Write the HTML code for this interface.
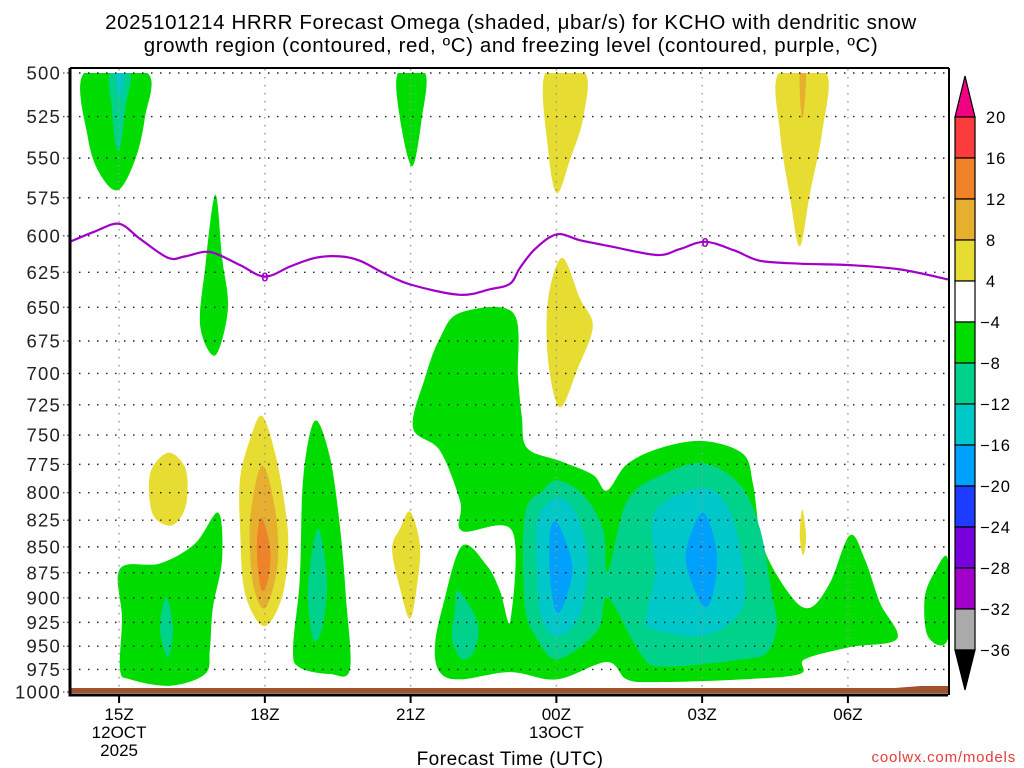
<!DOCTYPE html>
<html><head><meta charset="utf-8"><style>
html,body{margin:0;padding:0;background:#fff}
svg{display:block}
text{font-family:"Liberation Sans","DejaVu Sans",sans-serif}
</style></head><body>
<svg id="chart" width="1024" height="768" viewBox="0 0 1024 768" xmlns="http://www.w3.org/2000/svg">
<g id="title" font-size="20.5" fill="#000" text-anchor="middle" letter-spacing="0.6">
<text x="511" y="29">2025101214 HRRR Forecast Omega (shaded, μbar/s) for KCHO with dendritic snow</text>
<text x="511" y="52">growth region (contoured, red, ºC) and freezing level (contoured, purple, ºC)</text>
</g>
<g id="fills"></g>
<g id="grid"></g>
<g id="frz"></g>
<g id="axes"></g>
<g id="cbar"></g>
<text x="510" y="765" font-size="19" text-anchor="middle" letter-spacing="0.5">Forecast Time (UTC)</text>
<text x="1016" y="762" font-size="15" fill="#e23c3c" text-anchor="end" letter-spacing="0.8">coolwx.com/models</text>
</svg>
<script>
// ---- data ----
const pressureTicks=[500,525,550,575,600,625,650,675,700,725,750,775,800,825,850,875,900,925,950,975,1000];
const timeTickHours=[0,3,6,9,12,15];
const timeTickLabels=["15Z","18Z","21Z","00Z","03Z","06Z"];
const timeSubLabels=[["12OCT","2025"],[],[],["13OCT"],[],[]];
const cbarLevels=[20,16,12,8,4,-4,-8,-12,-16,-20,-24,-28,-32,-36];
const cbarColors=["#fa3c3c","#f08228","#e6af2d","#e6dc32","#ffffff","#00dc00","#00d28c","#00c8c8","#00a0ff","#1e3cff","#7800dc","#a000c8","#aaaaaa"];
const freezingHours=[-1.01,-0.49,0,0.43,1.01,1.36,1.87,2.49,3.00,3.52,4.03,4.55,4.96,5.47,6.03,7.02,7.63,8.05,8.25,8.56,9.01,9.49,10.10,11.07,11.54,12.06,12.67,13.19,14.01,15.04,16.07,17.06];
const freezingPres=[604,597,592,602,615,614,611,620,628,621,615,614,617,626,634,641,637,633,622,609,599,603,607,613,609,604,610,617,619,620,623,630];
// shaded omega regions: [level colour index, [[hour,hPa],...]]
const omegaRegions=[
 [5,[[-0.72,500],[0.58,500],[0.53,526],[0.33,551],[-0.02,570],[-0.39,560],[-0.64,538]]],
 [6,[[-0.19,500],[0.23,500],[0.13,520],[0.03,542],[-0.07,542],[-0.15,520]]],
 [7,[[-0.08,500],[0.10,500],[0.02,515]]],
 [5,[[1.98,573],[2.12,615],[2.24,651],[1.98,686],[1.67,664],[1.77,622]]],
 [5,[[5.74,500],[6.30,500],[6.23,526],[6.03,555],[5.78,526]]],
 [3,[[8.77,500],[9.59,500],[9.55,526],[9.28,551],[9.01,572],[8.83,545]]],
 [3,[[9.12,615],[9.49,644],[9.75,664],[9.44,696],[9.07,727],[8.83,690],[8.83,644]]],
 [3,[[13.58,500],[14.55,500],[14.47,534],[14.22,572],[14.01,607],[13.81,575],[13.60,534]]],
 [2,[[14.01,500],[14.14,500],[14.08,525],[14.03,520]]],
 [5,[[7.02,654],[8.11,654],[8.21,703],[8.29,735],[8.40,761],[9.07,772],[9.75,784],[10.04,798],[10.45,775],[11.13,761],[12.02,755],[12.84,766],[13.05,793],[13.25,849],[13.81,897],[14.22,910],[14.63,885],[15.04,839],[15.35,862],[15.66,905],[16.01,942],[15.04,951],[14.11,964],[14.01,980],[12.84,986],[11.07,989],[10.45,986],[10.04,967],[9.01,986],[8.05,978],[7.02,986],[6.60,978],[6.50,950],[6.67,907],[7.06,849],[7.57,868],[7.84,893],[8.05,924],[8.09,835],[7.06,835],[7.02,808],[6.60,763],[6.05,744],[6.30,703],[6.60,673]]],
 [6,[[8.35,820],[8.72,798],[9.03,789],[9.55,802],[9.96,833],[10.06,874],[10.45,808],[11.13,785],[12.02,774],[12.78,793],[13.19,833],[13.44,897],[13.54,928],[13.33,957],[12.84,964],[11.19,972],[10.72,957],[10.06,900],[9.84,934],[9.03,964],[8.60,942],[8.35,907]]],
 [7,[[8.62,823],[9.03,804],[9.42,820],[9.65,862],[9.49,917],[9.03,940],[8.70,921],[8.60,871]]],
 [8,[[8.87,836],[9.03,828],[9.32,866],[9.22,897],[9.01,915],[8.87,881]]],
 [7,[[11.03,817],[12.02,796],[12.57,817],[12.88,881],[12.74,917],[12.02,939],[10.93,931],[10.88,913],[11.03,874]]],
 [8,[[11.69,849],[12.02,818],[12.30,855],[12.22,897],[12.02,908],[11.71,874]]],
 [6,[[6.98,893],[7.37,924],[7.33,953],[7.06,964],[6.85,942],[6.91,913]]],
 [3,[[14.06,815],[14.14,840],[14.08,858],[14.01,840]]],
 [3,[[5.99,817],[6.19,847],[6.15,881],[5.99,921],[5.78,890],[5.62,852],[5.78,833]]],
 [5,[[0.02,871],[0.84,866],[1.56,847],[2.04,818],[2.12,862],[1.93,910],[1.87,953],[1.77,980],[1.05,993],[0.23,986],[0.02,975],[0.06,921]]],
 [6,[[0.97,900],[1.11,931],[1.01,962],[0.84,931]]],
 [3,[[1.01,765],[1.36,778],[1.40,805],[1.26,823],[1.01,830],[0.68,818],[0.64,783]]],
 [3,[[2.94,734],[3.21,765],[3.42,814],[3.48,852],[3.35,900],[2.98,929],[2.59,895],[2.49,833],[2.49,787],[2.70,753]]],
 [2,[[2.94,776],[3.21,814],[3.27,862],[3.11,900],[2.94,910],[2.74,881],[2.70,823]]],
 [1,[[2.94,823],[3.11,852],[3.07,881],[2.94,893],[2.86,871],[2.84,842]]],
 [5,[[4.03,738],[4.34,769],[4.55,833],[4.67,900],[4.75,975],[4.34,980],[3.72,973],[3.58,953],[3.72,881],[3.79,787]]],
 [6,[[4.09,833],[4.28,881],[4.18,931],[3.99,942],[3.89,890]]],
 [5,[[17.06,862],[17.06,942],[16.65,940],[16.58,900],[16.79,874]]]
];
// ---- scales ----
const X0=70,X1=948,H0=-1.01,H1=17.06,Y0=73,Y1=692;
function xs(h){return X0+(h-H0)/(H1-H0)*(X1-X0);}
function ys(p){return Y0+(Y1-Y0)*Math.log(p/500)/Math.log(2);}
const NS="http://www.w3.org/2000/svg";
function mk(tag,attrs,parent){const e=document.createElementNS(NS,tag);for(const k in attrs)e.setAttribute(k,attrs[k]);parent.appendChild(e);return e;}
function smooth(pts,closed){
 const n=pts.length;let d="M"+pts[0][0].toFixed(1)+","+pts[0][1].toFixed(1);
 const last=closed?n:n-1;
 for(let i=0;i<last;i++){
  const p0=pts[closed?(i-1+n)%n:Math.max(i-1,0)],p1=pts[i],p2=pts[(i+1)%n],p3=pts[closed?(i+2)%n:Math.min(i+2,n-1)];
  const c1=[p1[0]+(p2[0]-p0[0])/6,p1[1]+(p2[1]-p0[1])/6],c2=[p2[0]-(p3[0]-p1[0])/6,p2[1]-(p3[1]-p1[1])/6];
  d+="C"+c1[0].toFixed(1)+","+c1[1].toFixed(1)+" "+c2[0].toFixed(1)+","+c2[1].toFixed(1)+" "+p2[0].toFixed(1)+","+p2[1].toFixed(1);
 }
 return d+(closed?"Z":"");
}
// fills
const fills=document.getElementById('fills');
const clipEl=mk('clipPath',{id:'plotclip'},fills);
mk('rect',{x:X0,y:Y0,width:X1-X0,height:Y1-Y0},clipEl);
const fg=mk('g',{'clip-path':'url(#plotclip)'},fills);
omegaRegions.forEach((r,i)=>{
 const pts=r[1].map(q=>[xs(q[0]),ys(q[1])]);
 const el=mk('path',{d:smooth(pts,true),fill:cbarColors[r[0]]},fg);
 
 
});
// surface strip
const surf=mk('path',{d:`M${X0},${Y1-4}H${xs(15.96)}L${xs(16.5)},${Y1-6}H${X1}V${Y1+1}H${X0}Z`,fill:'#a0522d'},fills);


// grid
const grid=document.getElementById('grid');
pressureTicks.forEach(p=>{
 if(p===1000)return;
 const l=mk('line',{x1:X0,x2:X1,y1:ys(p),y2:ys(p),stroke:'#222','stroke-width':1.4,'stroke-dasharray':'1.5 7.5'},grid);
 
 
});
timeTickHours.forEach(h=>{
 const l=mk('line',{x1:xs(h),x2:xs(h),y1:Y0-4,y2:Y1,stroke:'#999','stroke-width':1.4,'stroke-dasharray':'1.5 6.5'},grid);
 
 
});
// freezing level
const frz=document.getElementById('frz');
const fp=freezingHours.map((h,i)=>[xs(h),ys(freezingPres[i])]);
const fl=mk('path',{d:smooth(fp,false),fill:'none',stroke:'#a000c8','stroke-width':2.2},frz);


[[3.00,628],[12.06,604]].forEach(q=>{
 const t=mk('text',{x:xs(q[0]),y:ys(q[1])+5,'font-size':13,'font-weight':'bold',fill:'#a000c8','text-anchor':'middle'},frz);
 t.textContent='0';
 
 
});
// axes
const ax=document.getElementById('axes');
const frame=mk('path',{d:`M${X0},${Y0-5}V${Y1+3}H${X1}`,fill:'none',stroke:'#000','stroke-width':3},ax);


const topBorder=mk('line',{x1:X0,x2:X1+1,y1:Y0-5,y2:Y0-5,stroke:'#000','stroke-width':2},ax);


const rightBorder=mk('line',{x1:X1+1,x2:X1+1,y1:Y0-5,y2:Y1+3,stroke:'#000','stroke-width':2},ax);


pressureTicks.forEach(p=>{
 const y=ys(p);
 const tk=mk('line',{x1:X0-7,x2:X0-1,y1:y,y2:y,stroke:'#555','stroke-width':1.3,'stroke-dasharray':'1.5 2.5'},ax);
 
 
 const t=mk('text',{x:X0-9,y:y+6.5,'font-size':18.5,'text-anchor':'end','letter-spacing':'1.2',fill:'#222'},ax);
 t.textContent=String(p);
 
 
});
timeTickHours.forEach((h,i)=>{
 const x=xs(h);
 const tk=mk('line',{x1:x,x2:x,y1:Y1+3,y2:Y1+11,stroke:'#000','stroke-width':2},ax);
 
 
 const t=mk('text',{x:x,y:720,'font-size':17,'text-anchor':'middle'},ax);
 t.textContent=timeTickLabels[i];
 
 
 timeSubLabels[i].forEach((s,j)=>{
  const u=mk('text',{x:x,y:738+j*18,'font-size':17,'text-anchor':'middle'},ax);
  u.textContent=s;
  
  
 });
});
// colorbar
const cb=document.getElementById('cbar');
const CX0=955,CX1=975,CT=117,CS=41;
const tri1=mk('path',{d:`M${CX0},${CT}L${(CX0+CX1)/2},76L${CX1},${CT}Z`,fill:'#f00082',stroke:'#000','stroke-width':1.2},cb);


cbarColors.forEach((c,i)=>{
 const r=mk('rect',{x:CX0,y:CT+i*CS,width:CX1-CX0,height:CS,fill:c,stroke:'#000','stroke-width':1.2},cb);
 
 
});
const yb=CT+cbarColors.length*CS;
const tri2=mk('path',{d:`M${CX0},${yb}L${(CX0+CX1)/2},690L${CX1},${yb}Z`,fill:'#000',stroke:'#000','stroke-width':1.2},cb);


cbarLevels.forEach((v,i)=>{
 const t=mk('text',{x:v<0?980:986,y:CT+i*CS+6,'font-size':16.5,'letter-spacing':'1'},cb);
 t.textContent=v<0?'\u2212'+Math.abs(v):String(v);
 
 
});
</script>
</body></html>
